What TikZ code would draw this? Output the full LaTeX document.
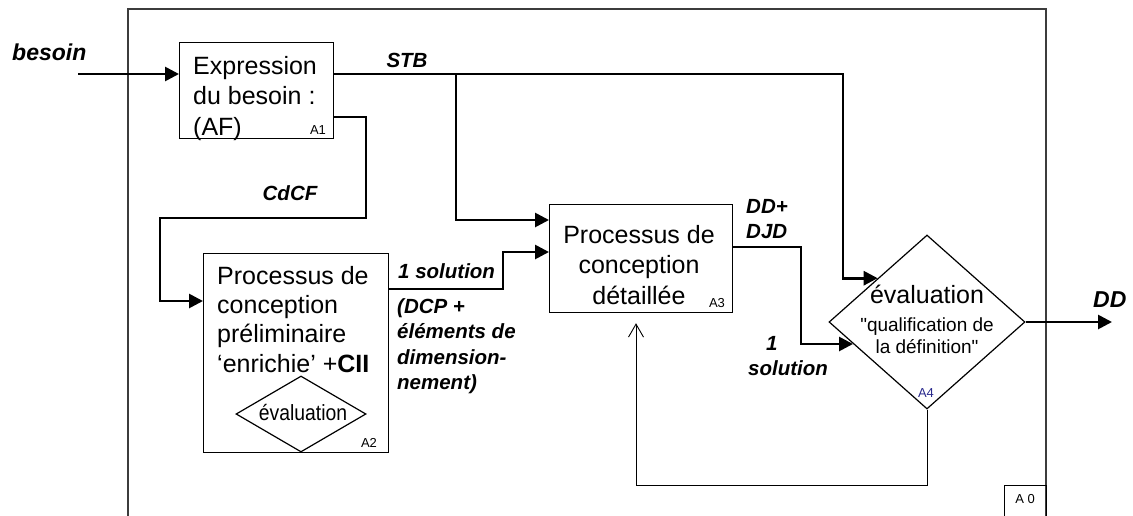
\documentclass[tikz,border=0pt]{standalone}
\usepackage{fontspec}
\setmainfont{Liberation Sans}
\newfontfamily\droit{Liberation Sans}
\usetikzlibrary{arrows.meta,shapes.geometric}
\definecolor{bleuA}{RGB}{40,40,140}
\definecolor{cadre}{RGB}{60,60,60}
\tikzset{
  boite/.style={draw, line width=1.2pt, inner sep=0pt, anchor=north west},
  losange/.style={draw, diamond, line width=1.2pt, inner sep=0pt},
  flux/.style={line width=2.7pt, -{Triangle[length=14pt,width=14pt]}},
  retour/.style={line width=0.9pt, -{Straight Barb[length=13pt,width=15pt]}},
  etiq/.style={font=\fontsize{20.5}{25.5}\selectfont\bfseries\itshape, inner sep=0pt},
  grande/.style={font=\fontsize{23}{26}\selectfont\bfseries\itshape, inner sep=0pt},
  texte/.style={font=\fontsize{25}{30.5}\selectfont, inner sep=0pt},
  repere/.style={font=\fontsize{13}{14}\selectfont, inner sep=0pt},
}
\begin{document}
\begin{tikzpicture}[x=1pt,y=-1pt]
\useasboundingbox (0,0) rectangle (1133,515);
\path
  coordinate (c0) at (128,520)
  coordinate (c1) at (128,9)
  coordinate (c2) at (1046,9)
  coordinate (c3) at (1046,520)
  coordinate (entree) at (78,74)
  coordinate (stbnoeud) at (456,74)
  coordinate (stbcoin) at (843,74)
  coordinate (cdcf1) at (366,218)
  coordinate (cdcf2) at (160,218)
  coordinate (sol) at (503,252)
  coordinate (ddcoin) at (801,344)
  coordinate (ddA4) at (853,344)
  coordinate (sortie) at (1112,322)
  coordinate (fbcoin) at (636,485)
  ;
\draw[cadre, line width=1.3pt] (c0) -- (c1) -- (c2) -- (c3);
\node[boite, minimum width=154pt, minimum height=96pt] (expr) at (179,42) {};
\node[boite, minimum width=185pt, minimum height=199pt] (prelim) at (203,253) {};
\node[boite, minimum width=183pt, minimum height=108pt] (detail) at (549,204) {};
\node[losange, minimum width=196pt, minimum height=174pt] (qualif) at (927,322) {};
\node[losange, minimum width=130pt, minimum height=76pt] (evalA) at (301,414) {};
\node[boite, minimum width=42pt, minimum height=40pt] (azero) at (1004,485) {};
\node[texte, anchor=north west, align=left] (texpr) at (193,56) {Expression\\du besoin :\\(AF)};
\node[texte, anchor=north west, align=left, font=\fontsize{25}{29.3}\selectfont] (tprelim) at (217,266) {Processus de\\conception\\préliminaire\\‘enrichie’ +\textbf{CII}};
\node[texte, anchor=north, align=center] (tdetail) at (639,225) {Processus de\\conception\\détaillée};
\node[texte, anchor=base] (tqualif) at (927,303) {évaluation};
\node[anchor=north, align=center, inner sep=0pt, font=\fontsize{19}{22}\selectfont\droit] (tqualif2) at (927,318) {"qualification de\\la définition"};
\node[anchor=base, inner sep=0pt, font=\fontsize{22}{24}\selectfont] (tevalA) at (303,420) {\scalebox{0.88}[1]{évaluation}};
\node[repere] (nA1) at (318,130) {A1};
\node[repere] (nA2) at (369,443) {A2};
\node[repere] (nA3) at (717,303) {A3};
\node[repere, text=bleuA] (nA4) at (926,393) {A4};
\node[repere] (nA0) at (1025,499) {A 0};
\draw[flux] (entree) -- (entree -| expr.west);
\draw[flux] (entree -| expr.east) -- (stbcoin) |- (qualif.north west);
\draw[flux] (stbnoeud) |- ([yshift=-16pt]detail.north west);
\draw[flux] ([yshift=-75pt]expr.north east) -| (cdcf1) -- (cdcf2) |- ([yshift=-48pt]prelim.north west);
\draw[flux] ([yshift=-36pt]prelim.north east) -| (sol) -- (sol -| detail.west);
\draw[flux] ([yshift=-43pt]detail.north east) -| (ddcoin) -- (ddA4);
\draw[flux] (qualif.east) -- (sortie);
\draw[retour] (qualif.south) |- (fbcoin) -- ([yshift=-10pt]detail.south -| fbcoin);
\node[grande, anchor=base west] (lbesoin) at (12,60) {besoin};
\node[etiq, anchor=base] (lstb) at (407,67) {STB};
\node[etiq, anchor=base] (lcdcf) at (290,200) {CdCF};
\node[etiq, anchor=base west] (lsol1) at (398,278) {1 solution};
\node[etiq, anchor=north west, align=left] (ldcp) at (397,298) {(DCP +\\éléments de\\dimension-\\nement)};
\node[etiq, anchor=north west, align=left] (ldd) at (746,199) {DD+\\DJD};
\node[etiq, anchor=north west, align=left] (lsol2) at (748,336) {\hspace*{18pt}1\\solution};
\node[grande, anchor=base west] (ldd2) at (1093,307) {DD};
\end{tikzpicture}
\end{document}
